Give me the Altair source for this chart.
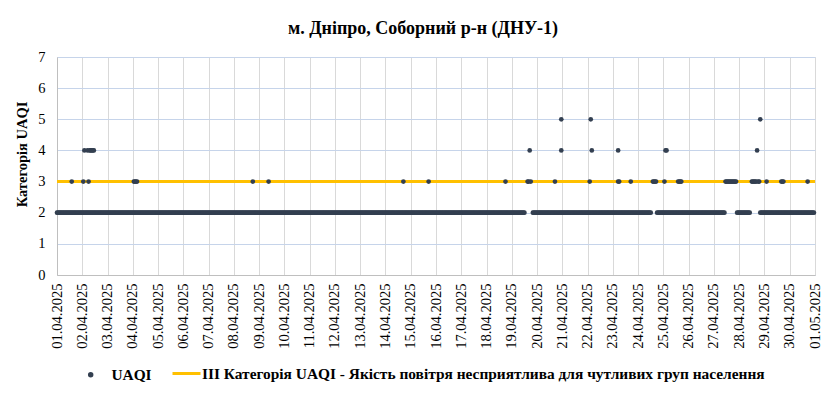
import altair as alt
import pandas as pd

# ---- data (hour offsets from 01.04.2025 00:00) ----
start_date = "2025-04-01 00:00"
n_hours = 720
series_name = "UAQI"
threshold_name = "III Категорія UAQI - Якість повітря несприятлива для чутливих груп населення"
threshold_value = 3
title_text = "м. Дніпро, Соборний р-н (ДНУ-1)"
y_title = "Категорія UAQI"
y_ticks = [0, 1, 2, 3, 4, 5, 6, 7]

# hours without a category-2 reading (gaps in the dark band)
gap_hours = [445, 446, 447, 448, 449, 450, 451,
             565, 566, 567, 568, 569,
             635, 636, 637, 638, 639, 640, 641, 642, 643, 644, 645,
             659, 660, 661, 662, 663, 664, 665, 666, 667]
cat3_hours = [14, 25, 30, 73, 74, 75, 76, 186, 201, 329, 353, 426,
              447, 448, 450, 473, 506, 533, 534, 545,
              566, 567, 568, 569, 577, 590, 591, 592, 593,
              635, 636, 637, 638, 639, 640, 641, 642, 643, 644, 645,
              660, 661, 662, 663, 664, 666, 667, 674, 688, 689, 690, 713]
cat4_hours = [26, 29, 31, 32, 33, 34, 35, 449, 479, 508, 533, 578, 579, 665]
cat5_hours = [479, 507, 668]

start = pd.Timestamp(start_date)
rows = [(h, 2) for h in range(n_hours) if h not in gap_hours]
rows += [(h, 3) for h in cat3_hours]
rows += [(h, 4) for h in cat4_hours]
rows += [(h, 5) for h in cat5_hours]
df = pd.DataFrame(rows, columns=["hour", "uaqi"])
df["time"] = start + pd.to_timedelta(df["hour"], unit="h")
df["series"] = series_name

thr = pd.DataFrame({
    "time": [start, start + pd.Timedelta(hours=n_hours)],
    "uaqi": [threshold_value, threshold_value],
    "series": [threshold_name, threshold_name],
})

day_ticks = [alt.DateTime(year=2025, month=4, date=d) for d in range(1, 31)] + \
            [alt.DateTime(year=2025, month=5, date=1)]
x_domain = [alt.DateTime(year=2025, month=4, date=1), alt.DateTime(year=2025, month=5, date=1)]

FONT = "Liberation Serif, Times New Roman, serif"

x_enc = alt.X("time:T",
              scale=alt.Scale(domain=x_domain, nice=False),
              axis=alt.Axis(values=day_ticks, format="%d.%m.%Y", labelAngle=270,
                            labelFont=FONT, labelFontSize=14.5, labelColor="#000000",
                            grid=True, gridColor="#d9d9d9", domainColor="#bfbfbf",
                            ticks=False, labelPadding=8, title=None,
                            labelOverlap=False, labelFlush=False, labelBound=False))
y_enc = alt.Y("uaqi:Q",
              scale=alt.Scale(domain=[0, 7], nice=False),
              axis=alt.Axis(values=y_ticks, labelFont=FONT, labelFontSize=14.5,
                            labelColor="#000000", ticks=False, labelPadding=12,
                            grid=True, gridColor="#c6d4ea", domainColor="#bfbfbf",
                            title=y_title, titleFont=FONT, titleFontSize=14.5,
                            titleFontWeight="bold", titleColor="#000000",
                            titleAngle=270, titleX=-28, titleY=97,
                            titleAlign="center", titleBaseline="bottom"))

line = alt.Chart(thr).mark_line(strokeWidth=3).encode(
    x=x_enc, y=y_enc,
    color=alt.Color("series:N",
                    scale=alt.Scale(domain=[threshold_name], range=["#ffc000"]),
                    legend=alt.Legend(title=None, orient="none", legendX=114, legendY=301,
                                      symbolType="stroke", symbolStrokeWidth=3,
                                      symbolSize=784, labelOffset=0, labelLimit=1000,
                                      labelFont=FONT, labelFontSize=15.4,
                                      labelFontWeight="bold", labelColor="#000000",
                                      padding=0)),
)

points = alt.Chart(df).mark_circle(size=22, opacity=1).encode(
    x=x_enc, y=y_enc,
    color=alt.Color("series:N",
                    scale=alt.Scale(domain=[series_name], range=["#333f50"]),
                    legend=alt.Legend(title=None, orient="none", legendX=26, legendY=310,
                                      symbolType="circle", symbolSize=30,
                                      labelOffset=13, labelLimit=1000,
                                      labelFont=FONT, labelFontSize=15.4,
                                      labelFontWeight="bold", labelColor="#000000",
                                      padding=0)),
)

chart = alt.layer(line, points).resolve_scale(color="independent").properties(
    width=758, height=218,
    padding={"left": 49, "top": 49, "right": 10, "bottom": 111},
    autosize=alt.AutoSizeParams(type="none"),
    title=alt.TitleParams(title_text, font=FONT, fontSize=18, fontWeight="bold",
                          color="#000000", anchor="middle", dx=-13, offset=11),
).configure_view(strokeOpacity=0).configure(background="white")

chart.save("out.html", embed_options={"renderer": "svg", "actions": False})
